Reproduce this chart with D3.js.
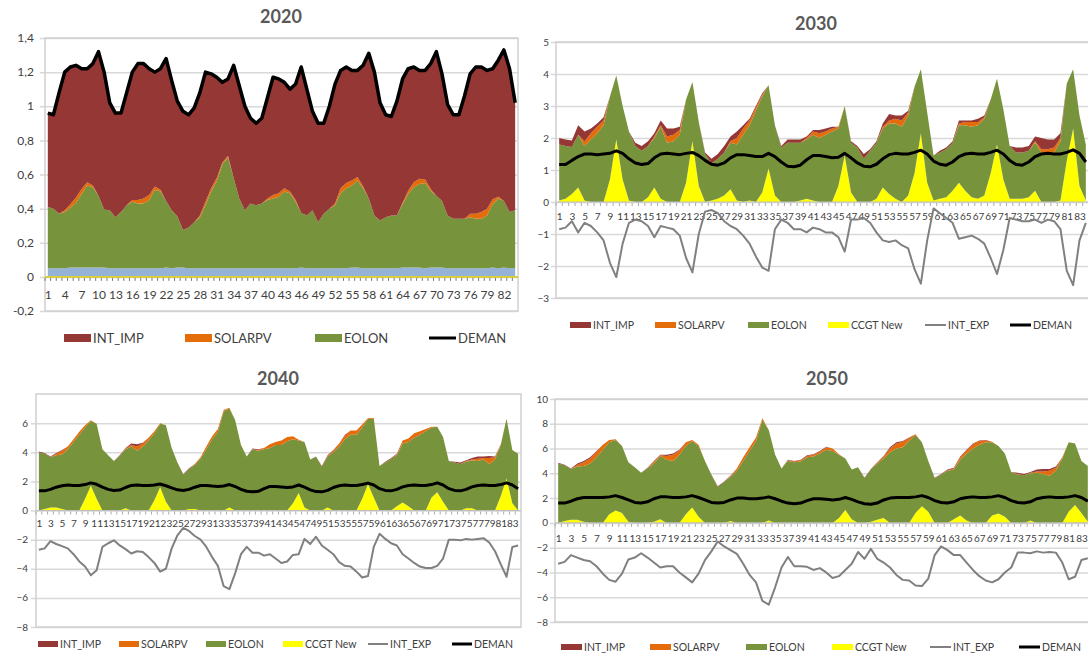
<!DOCTYPE html>
<html>
<head>
<meta charset="utf-8">
<script src="https://cdn.jsdelivr.net/npm/d3@7"></script>
<style>
  body { margin: 0; background: #fff; }
  svg { display: block; font-family: Lato, "Open Sans", sans-serif; }
</style>
</head>
<body>
<svg id="chart" width="1088" height="655"></svg>
<script>
// categories: 84 periods (7 days x 12)
var periods = d3.range(1, 85);

// ---- 2020 ----
var gas2020 = [
  0.005,0.005,0.005,0.005,0.005,0.005,0.005,0.005,0.005,0.005,0.005,0.005,
  0.005,0.005,0.005,0.005,0.005,0.005,0.005,0.005,0.005,0.005,0.005,0.005,
  0.005,0.005,0.005,0.005,0.005,0.005,0.005,0.005,0.005,0.005,0.005,0.005,
  0.005,0.005,0.005,0.005,0.005,0.005,0.005,0.005,0.005,0.005,0.005,0.005,
  0.005,0.005,0.005,0.005,0.005,0.005,0.005,0.005,0.005,0.005,0.005,0.005,
  0.005,0.005,0.005,0.005,0.005,0.005,0.005,0.005,0.005,0.005,0.005,0.005,
  0.005,0.005,0.005,0.005,0.005,0.005,0.005,0.005,0.005,0.005,0.005,0.005];
var hidro2020 = [
  0.045,0.045,0.045,0.045,0.05,0.05,0.05,0.05,0.05,0.05,0.05,0.045,
  0.045,0.045,0.045,0.045,0.045,0.045,0.045,0.045,0.045,0.05,0.045,0.05,
  0.05,0.045,0.045,0.045,0.045,0.045,0.045,0.045,0.045,0.045,0.045,0.045,
  0.045,0.045,0.045,0.045,0.045,0.045,0.045,0.045,0.045,0.05,0.045,0.045,
  0.045,0.045,0.045,0.045,0.045,0.045,0.05,0.05,0.045,0.045,0.045,0.045,
  0.045,0.045,0.045,0.05,0.05,0.05,0.05,0.045,0.05,0.05,0.05,0.045,
  0.045,0.045,0.045,0.045,0.045,0.045,0.045,0.05,0.045,0.05,0.045,0.045];
var eolon2020 = [
  0.36,0.35,0.32,0.33,0.35,0.38,0.43,0.48,0.47,0.42,0.34,0.34,
  0.30,0.33,0.37,0.39,0.38,0.38,0.40,0.46,0.45,0.39,0.34,0.30,
  0.22,0.24,0.27,0.30,0.37,0.45,0.51,0.61,0.65,0.53,0.41,0.34,
  0.38,0.37,0.38,0.40,0.41,0.42,0.45,0.44,0.39,0.32,0.31,0.34,
  0.27,0.32,0.35,0.37,0.44,0.47,0.48,0.51,0.47,0.41,0.31,0.28,
  0.30,0.31,0.31,0.37,0.43,0.47,0.49,0.50,0.45,0.42,0.39,0.31,
  0.29,0.29,0.29,0.30,0.29,0.29,0.31,0.37,0.41,0.39,0.33,0.34];
var solar2020 = [
  0,0,0,0.01,0.02,0.03,0.03,0.02,0.01,0,0,0,
  0,0,0,0.01,0.02,0.03,0.03,0.02,0.01,0,0,0,
  0,0,0,0.01,0.02,0.02,0.02,0.01,0.01,0,0,0,
  0,0,0,0.01,0.02,0.02,0.02,0.01,0.01,0,0,0,
  0,0,0,0.01,0.03,0.03,0.03,0.02,0.01,0,0,0,
  0,0,0,0.01,0.02,0.03,0.03,0.02,0.01,0,0,0,
  0,0,0,0.02,0.03,0.04,0.04,0.03,0.01,0,0,0];
var imp2020 = [
  0.55,0.55,0.71,0.81,0.81,0.78,0.71,0.67,0.72,0.85,0.81,0.63,
  0.61,0.58,0.66,0.75,0.80,0.79,0.74,0.67,0.71,0.84,0.76,0.68,
  0.70,0.66,0.67,0.72,0.76,0.67,0.59,0.47,0.45,0.66,0.66,0.61,
  0.50,0.48,0.50,0.59,0.69,0.67,0.62,0.60,0.68,0.86,0.74,0.58,
  0.58,0.53,0.60,0.70,0.69,0.68,0.65,0.63,0.71,0.85,0.84,0.69,
  0.60,0.58,0.67,0.73,0.72,0.68,0.64,0.64,0.74,0.85,0.75,0.65,
  0.61,0.61,0.72,0.82,0.86,0.85,0.81,0.77,0.80,0.89,0.84,0.63];
var deman2020 = [
  0.96,0.95,1.08,1.20,1.23,1.24,1.22,1.22,1.25,1.32,1.20,1.02,
  0.96,0.96,1.08,1.20,1.25,1.25,1.22,1.20,1.22,1.28,1.15,1.03,
  0.97,0.95,0.99,1.08,1.20,1.19,1.17,1.14,1.16,1.24,1.12,1.00,
  0.93,0.90,0.93,1.05,1.17,1.16,1.14,1.10,1.13,1.23,1.10,0.97,
  0.90,0.90,1.00,1.13,1.21,1.23,1.21,1.21,1.24,1.31,1.20,1.02,
  0.95,0.94,1.03,1.16,1.22,1.23,1.21,1.21,1.25,1.32,1.19,1.01,
  0.95,0.95,1.06,1.19,1.23,1.23,1.21,1.22,1.27,1.33,1.22,1.02];

// ---- 2030 ----
var ccgt2030 = [
  0.05,0.1,0.25,0.45,0.05,0,0,0,0.7,1.95,0.7,0.05,
  0,0,0.15,0.45,0.1,0,0,0,0.6,1.9,0.5,0,
  0.05,0.1,0.2,0.4,0.05,0,0.05,0,0.3,1.05,0.2,0,
  0,0,0.05,0.1,0.05,0,0,0,0.5,1.45,0.3,0,
  0,0,0.1,0.45,0.25,0.1,0,0.2,0.9,2.15,0.6,0.05,
  0.1,0.15,0.35,0.6,0.35,0.15,0.1,0.2,0.9,1.8,0.7,0.1,
  0.1,0.1,0.15,0.35,0,0,0,0.05,1.3,2.3,0.5,0.05];
var eolon2030 = [
  1.75,1.65,1.47,1.65,1.70,1.95,2.15,2.40,2.60,2.00,2.30,2.15,
  1.75,1.60,1.60,1.55,2.25,1.85,1.90,2.10,2.60,1.85,2.00,1.50,
  1.15,1.25,1.35,1.45,1.75,2.10,2.35,2.85,3.00,2.60,2.20,1.70,
  1.85,1.85,1.80,1.85,2.05,2.00,2.10,2.20,1.80,1.55,1.55,1.70,
  1.35,1.60,1.75,1.85,2.20,2.35,2.35,2.50,2.70,2.00,2.20,1.40,
  1.45,1.50,1.50,1.80,2.05,2.20,2.30,2.40,2.30,2.05,2.20,1.65,
  1.45,1.45,1.45,1.50,1.55,1.50,1.55,1.85,2.40,1.85,2.20,1.75];
var solar2030 = [
  0,0,0,0,0.15,0.2,0.2,0.15,0,0,0,0,
  0,0,0,0.05,0.05,0.2,0.2,0.15,0,0,0,0,
  0,0,0,0.05,0.2,0.2,0.15,0.1,0.05,0,0,0,
  0,0,0,0.05,0.1,0.15,0.1,0.1,0.05,0,0,0,
  0,0,0,0.05,0.1,0.15,0.2,0.1,0,0,0,0,
  0,0,0,0.05,0.1,0.15,0.1,0.05,0,0,0,0,
  0,0,0,0.05,0.1,0.15,0.15,0.1,0,0,0,0];
var imp2030 = [
  0.2,0.2,0.2,0.3,0.3,0.15,0.1,0.1,0,0,0,0,
  0.1,0.15,0.15,0.1,0.15,0.25,0.2,0.1,0,0,0,0.05,
  0.15,0.15,0.2,0.15,0.2,0.1,0.05,0.05,0.05,0,0,0.05,
  0.1,0.1,0.1,0.05,0.05,0.1,0.1,0.05,0,0,0.05,0.05,
  0.15,0.05,0.05,0.1,0.2,0.1,0.15,0.05,0,0,0,0,
  0.05,0.05,0.05,0.1,0.05,0.05,0.1,0.05,0,0,0,0,
  0.15,0.15,0.15,0.15,0.35,0.3,0.25,0.15,0,0,0,0];
var exp2030 = [
  -0.85,-0.8,-0.6,-0.95,-0.65,-0.75,-0.95,-1.2,-1.9,-2.35,-1.3,-0.65,
  -0.55,-0.6,-0.75,-1.1,-0.75,-0.8,-0.85,-1.05,-1.75,-2.2,-1.0,-0.3,
  -0.25,-0.35,-0.6,-0.75,-0.85,-1.05,-1.3,-1.7,-2.05,-2.15,-0.85,-0.55,
  -0.65,-0.85,-0.85,-0.95,-0.8,-0.85,-0.95,-0.95,-1.1,-1.55,-0.55,-0.55,
  -0.5,-0.65,-0.95,-1.2,-1.25,-1.2,-1.35,-1.45,-2.1,-2.55,-1.2,-0.2,
  -0.35,-0.5,-0.65,-1.15,-1.1,-1.05,-1.15,-1.3,-1.75,-2.25,-1.5,-0.5,
  -0.55,-0.6,-0.6,-0.55,-0.65,-0.55,-0.6,-0.85,-2.15,-2.6,-1.2,-0.65];
var deman2030 = [
  1.17,1.17,1.3,1.42,1.5,1.5,1.48,1.5,1.52,1.6,1.52,1.35,
  1.22,1.17,1.2,1.38,1.5,1.52,1.5,1.48,1.52,1.55,1.45,1.3,
  1.18,1.15,1.22,1.38,1.48,1.48,1.45,1.42,1.42,1.52,1.42,1.25,
  1.12,1.1,1.15,1.32,1.45,1.45,1.42,1.38,1.4,1.52,1.38,1.22,
  1.12,1.1,1.18,1.35,1.48,1.52,1.5,1.5,1.55,1.62,1.5,1.28,
  1.18,1.15,1.25,1.42,1.5,1.52,1.5,1.5,1.55,1.62,1.5,1.3,
  1.17,1.15,1.25,1.42,1.5,1.52,1.5,1.5,1.55,1.63,1.52,1.25];

// ---- 2040 ----
var ccgt2040 = [
  0,0.1,0.2,0.2,0.1,0,0,0,0.8,1.7,0.8,0,
  0,0,0,0.15,0,0,0,0,0.7,1.6,0.6,0,
  0,0,0.1,0.1,0,0,0,0,0,0.2,0,0,
  0,0,0,0,0,0,0,0,0.5,1.2,0.2,0,
  0,0,0.2,0,0,0,0,0,0.8,1.8,0.9,0,
  0,0,0.3,0.55,0.3,0,0,0,0.9,1.25,0.6,0,
  0,0,0.15,0.15,0,0,0,0,1.0,2.2,0.5,0];
var eolon2040 = [
  4.0,3.8,3.45,3.6,3.75,4.2,4.7,5.2,4.9,4.45,5.15,4.2,
  3.8,3.4,3.75,4.05,4.4,4.1,4.4,4.8,4.6,4.35,5.25,4.3,
  3.3,2.45,2.75,3.05,3.55,4.2,4.9,5.4,6.8,6.8,6.2,4.5,
  3.7,4.2,4.1,4.2,4.3,4.5,4.5,4.75,4.4,3.6,4.5,3.5,
  3.7,3.0,3.5,4.0,4.4,4.9,5.2,5.2,4.9,4.5,5.4,3.05,
  3.3,3.55,3.5,4.05,4.4,5.0,5.2,5.45,4.8,4.5,4.45,3.4,
  3.3,3.2,3.2,3.3,3.4,3.5,3.2,3.5,3.5,4.1,3.65,3.9];
var solar2040 = [
  0,0,0,0.1,0.25,0.2,0.2,0.2,0.15,0.05,0,0,
  0,0,0,0.05,0.1,0.3,0.2,0.2,0.15,0.05,0,0,
  0,0,0,0.05,0.1,0.2,0.2,0.2,0.1,0.05,0,0,
  0,0,0.05,0.1,0.25,0.2,0.3,0.3,0.2,0.05,0,0,
  0,0,0.05,0.1,0.2,0.25,0.3,0.3,0.2,0.05,0.05,0,
  0,0,0.05,0.2,0.25,0.3,0.25,0.15,0.05,0,0,0,
  0,0,0.05,0.05,0.15,0.1,0.4,0.15,0.05,0,0,0];
var imp2040 = [
  0.05,0.05,0.05,0.05,0.05,0,0,0,0,0,0,0,
  0,0,0.05,0.05,0.1,0.15,0.05,0,0,0,0,0,
  0,0.05,0.05,0,0,0,0,0,0,0,0,0,
  0,0.05,0.05,0,0,0,0,0,0,0,0,0,
  0,0.05,0.05,0.05,0,0.05,0,0,0,0,0,0,
  0.05,0.05,0.05,0,0,0,0,0,0,0,0,0,
  0.05,0.1,0.05,0.1,0.15,0.1,0.15,0.05,0,0,0,0];
var exp2040 = [
  -2.7,-2.6,-2.1,-2.3,-2.45,-2.6,-3.0,-3.5,-3.85,-4.45,-4.1,-2.5,
  -2.25,-2.05,-2.4,-2.65,-2.95,-2.8,-2.85,-3.2,-3.6,-4.2,-4.0,-2.6,
  -1.7,-1.2,-1.4,-1.75,-2.0,-2.5,-3.2,-3.8,-5.2,-5.4,-4.3,-3.0,
  -2.5,-2.9,-2.9,-3.1,-3.0,-3.3,-3.6,-3.5,-3.05,-3.0,-1.95,-2.3,
  -1.8,-2.4,-2.7,-3.0,-3.55,-3.8,-3.85,-4.2,-4.6,-4.5,-2.5,-1.6,
  -1.95,-2.25,-2.4,-3.0,-3.3,-3.6,-3.85,-3.95,-3.95,-3.8,-3.3,-2.0,
  -2.0,-2.05,-1.95,-2.0,-1.95,-1.9,-2.2,-2.8,-3.7,-4.55,-2.5,-2.4];
var deman2040 = [
  1.35,1.35,1.45,1.6,1.7,1.75,1.72,1.72,1.78,1.9,1.8,1.6,
  1.45,1.38,1.4,1.58,1.72,1.75,1.72,1.72,1.75,1.82,1.7,1.55,
  1.42,1.38,1.45,1.6,1.72,1.72,1.68,1.65,1.68,1.78,1.65,1.45,
  1.32,1.28,1.32,1.5,1.65,1.65,1.62,1.58,1.62,1.75,1.6,1.42,
  1.3,1.28,1.38,1.58,1.7,1.75,1.72,1.72,1.78,1.88,1.75,1.5,
  1.38,1.35,1.45,1.62,1.72,1.75,1.72,1.72,1.78,1.9,1.75,1.5,
  1.38,1.35,1.45,1.62,1.72,1.75,1.72,1.72,1.78,1.9,1.75,1.5];

// ---- 2050 ----
var ccgt2050 = [
  0,0.15,0.25,0.25,0.1,0,0,0,0.7,1.0,0.8,0.1,
  0,0,0,0.1,0.3,0,0,0,0.7,1.25,0.5,0,
  0,0,0,0.15,0,0,0,0,0,0.2,0,0,
  0,0,0,0,0,0,0,0,0.4,1.05,0.3,0,
  0,0.1,0.25,0.4,0,0,0,0,0.8,1.35,0.9,0,
  0,0,0.3,0.6,0.2,0,0,0,0.6,0.75,0.5,0,
  0,0,0.2,0,0,0,0,0,0.9,1.45,0.8,0.1];
var eolon2050 = [
  4.8,4.5,4.1,4.3,4.5,4.8,5.3,5.9,5.8,5.7,5.4,4.8,
  4.5,4.05,4.4,4.7,5.1,5.1,5.0,5.5,5.5,5.35,5.7,5.0,
  3.9,2.9,3.3,3.55,4.2,5.0,5.8,6.6,8.3,7.3,5.5,4.4,
  5.0,4.9,4.95,5.3,5.35,5.6,5.9,5.8,5.1,4.15,4.0,4.5,
  3.6,4.2,4.55,4.8,5.7,6.0,6.1,6.6,6.3,5.15,4.1,3.6,
  3.9,4.2,4.0,4.5,5.4,6.0,6.3,6.5,5.9,5.45,5.1,4.1,
  3.9,3.85,3.8,4.05,3.95,3.8,4.2,5.2,5.6,4.95,4.2,4.5];
var solar2050 = [
  0,0,0,0.15,0.3,0.4,0.45,0.4,0.2,0.05,0,0,
  0,0,0,0.15,0.05,0.3,0.5,0.35,0.3,0.1,0.1,0,
  0,0,0,0.05,0.2,0.3,0.3,0.3,0.15,0,0,0,
  0.05,0.05,0.1,0.1,0.15,0.15,0.2,0.2,0.05,0,0,0,
  0,0,0.05,0.15,0.3,0.4,0.45,0.25,0.05,0,0,0,
  0,0.05,0.1,0.2,0.25,0.35,0.3,0.15,0.05,0,0,0,
  0.05,0,0.05,0.1,0.2,0.4,0.25,0.1,0,0,0,0];
var imp2050 = [
  0.05,0.05,0.05,0.1,0.1,0.1,0.05,0,0,0,0,0,
  0,0,0.05,0.05,0.05,0.1,0.1,0.05,0,0,0,0,
  0,0.05,0.05,0.05,0,0,0,0,0,0,0,0,
  0.05,0.05,0.05,0.05,0.05,0.05,0.05,0,0,0,0,0,
  0.05,0.05,0.05,0.05,0.1,0.1,0.05,0.05,0,0,0,0.05,
  0.05,0.05,0.05,0.05,0.05,0.05,0.05,0.05,0,0,0,0,
  0.1,0.1,0.05,0.15,0.2,0.15,0.1,0,0,0,0,0];
var exp2050 = [
  -3.3,-3.15,-2.6,-2.8,-3.0,-3.1,-3.5,-4.1,-4.6,-4.75,-4.1,-2.95,
  -2.8,-2.45,-2.8,-3.2,-3.6,-3.5,-3.5,-4.0,-4.4,-4.8,-4.1,-3.0,
  -2.3,-1.5,-1.9,-2.2,-2.5,-3.3,-4.2,-4.8,-6.3,-6.6,-5.2,-3.6,
  -2.75,-3.5,-3.5,-3.55,-3.8,-3.65,-4.0,-4.45,-4.3,-3.8,-3.3,-2.35,
  -2.9,-2.1,-2.9,-3.2,-3.6,-4.2,-4.6,-4.65,-5.05,-5.1,-4.5,-2.6,
  -1.9,-2.2,-2.6,-2.6,-3.2,-3.8,-4.3,-4.65,-4.8,-4.55,-4.0,-3.6,
  -2.4,-2.4,-2.45,-2.3,-2.4,-2.35,-2.4,-3.2,-4.55,-4.35,-3.0,-2.85];
var deman2050 = [
  1.6,1.6,1.75,1.95,2.05,2.05,2.05,2.05,2.1,2.2,2.05,1.85,
  1.65,1.6,1.7,1.95,2.1,2.1,2.05,2.05,2.1,2.2,2.05,1.85,
  1.65,1.6,1.65,1.85,2.0,2.0,1.95,1.95,2.0,2.1,1.95,1.75,
  1.6,1.55,1.6,1.8,1.95,1.95,1.9,1.85,1.9,2.05,1.9,1.7,
  1.55,1.5,1.6,1.85,2.0,2.05,2.05,2.05,2.1,2.2,2.05,1.8,
  1.65,1.6,1.7,1.95,2.05,2.1,2.05,2.05,2.1,2.2,2.05,1.8,
  1.65,1.6,1.7,1.95,2.05,2.1,2.05,2.05,2.1,2.2,2.05,1.75];

var ticks2020 = [-0.2, 0, 0.2, 0.4, 0.6, 0.8, 1, 1.2, 1.4];
var ticks2030 = [-3, -2, -1, 0, 1, 2, 3, 4, 5];
var ticks2040 = [-8, -6, -4, -2, 0, 2, 4, 6];
var ticks2050 = [-8, -6, -4, -2, 0, 2, 4, 6, 8, 10];

var colors = {
    INT_IMP: "#953735", SOLARPV: "#E46C0A", EOLON: "#77933C",
    CCGT: "#FFFF00", HIDRO: "#95B3D7", GAS: "#D8CF3A",
    INT_EXP: "#808080", DEMAN: "#000000"
};

var svg = d3.select("#chart");

var panels = [
    {
        title: "2020", titleX: 281, titleY: 23, x0: 45, x1: 518, y0: 38, y1: 311,
        domain: [-0.2, 1.4], ticks: ticks2020, comma: true, every: 3,
        tickFont: 12, labelGap: 11, labelDy: 19, demanWidth: 3.5,
        layers: [
            { key: "GAS", values: gas2020 },
            { key: "HIDRO", values: hidro2020 },
            { key: "EOLON", values: eolon2020 },
            { key: "SOLARPV", values: solar2020 },
            { key: "INT_IMP", values: imp2020 }
        ],
        lines: [{ key: "DEMAN", values: deman2020 }],
        legend: { y: 338, font: 13, sw: 27, sh: 8, items: ["INT_IMP", "SOLARPV", "EOLON", "DEMAN"], xs: [64, 185, 315, 429] }
    },
    {
        title: "2030", titleX: 816, titleY: 30, x0: 556, x1: 1089, y0: 42, y1: 298,
        domain: [-3, 5], ticks: ticks2030, every: 2,
        tickFont: 10, labelGap: 7, labelDy: 16, demanWidth: 3,
        layers: [
            { key: "CCGT", values: ccgt2030 },
            { key: "EOLON", values: eolon2030 },
            { key: "SOLARPV", values: solar2030 },
            { key: "INT_IMP", values: imp2030 }
        ],
        lines: [{ key: "INT_EXP", values: exp2030 }, { key: "DEMAN", values: deman2030 }],
        legend: { y: 325, font: 10.5, sw: 21, sh: 6, items: ["INT_IMP", "SOLARPV", "EOLON", "CCGT", "INT_EXP", "DEMAN"], xs: [570, 655, 748, 828, 925, 1010] }
    },
    {
        title: "2040", titleX: 278, titleY: 385, x0: 36, x1: 521, y0: 394, y1: 627,
        domain: [-8, 8], ticks: ticks2040, every: 2,
        tickFont: 10, labelGap: 8, labelDy: 14, demanWidth: 3,
        layers: [
            { key: "CCGT", values: ccgt2040 },
            { key: "EOLON", values: eolon2040 },
            { key: "SOLARPV", values: solar2040 },
            { key: "INT_IMP", values: imp2040 }
        ],
        lines: [{ key: "INT_EXP", values: exp2040 }, { key: "DEMAN", values: deman2040 }],
        legend: { y: 644, font: 10.5, sw: 20, sh: 6, items: ["INT_IMP", "SOLARPV", "EOLON", "CCGT", "INT_EXP", "DEMAN"], xs: [38, 119, 206, 283, 368, 452] }
    },
    {
        title: "2050", titleX: 827, titleY: 385, x0: 555, x1: 1091, y0: 399, y1: 622,
        domain: [-8, 10], ticks: ticks2050, every: 2,
        tickFont: 10, labelGap: 7, labelDy: 17, demanWidth: 3,
        layers: [
            { key: "CCGT", values: ccgt2050 },
            { key: "EOLON", values: eolon2050 },
            { key: "SOLARPV", values: solar2050 },
            { key: "INT_IMP", values: imp2050 }
        ],
        lines: [{ key: "INT_EXP", values: exp2050 }, { key: "DEMAN", values: deman2050 }],
        legend: { y: 647, font: 10.5, sw: 21, sh: 6, items: ["INT_IMP", "SOLARPV", "EOLON", "CCGT", "INT_EXP", "DEMAN"], xs: [561, 650, 746, 832, 930, 1019] }
    }
];

var legendNames = { CCGT: "CCGT New" };

panels.forEach(drawPanel);

function drawPanel(p) {
    var g = svg.append("g");

    var x = d3.scalePoint().domain(periods).range([p.x0, p.x1]).padding(0.5);
    var band = d3.scaleBand().domain(periods).range([p.x0, p.x1]);
    var y = d3.scaleLinear().domain(p.domain).range([p.y1, p.y0]);
    var fmt = p.comma ? function (d) { return String(+d.toFixed(1)).replace(".", ","); } : d3.format("d");

    // gridlines (plus the small outside ticks on the left)
    g.append("g")
        .attr("transform", "translate(" + (p.x0 - 5) + ",0)")
        .call(d3.axisLeft(y).tickValues(p.ticks).tickSize(-(p.x1 - p.x0 + 5)).tickFormat(""))
        .call(function (s) {
            s.select(".domain").remove();
            s.selectAll("line").attr("stroke", "#d9d9d9").attr("stroke-width", 1.5);
        });

    // plot frame
    g.append("rect")
        .attr("x", p.x0).attr("y", p.y0)
        .attr("width", p.x1 - p.x0).attr("height", p.y1 - p.y0)
        .attr("fill", "none").attr("stroke", "#d0d0d0").attr("stroke-width", 1.5);

    // stacked areas
    var table = periods.map(function (d, i) {
        var row = { period: d };
        p.layers.forEach(function (l) { row[l.key] = l.values[i]; });
        return row;
    });
    var series = d3.stack().keys(p.layers.map(function (l) { return l.key; }))(table);

    var area = d3.area()
        .x(function (d) { return x(d.data.period); })
        .y0(function (d) { return y(d[0]); })
        .y1(function (d) { return y(d[1]); });

    g.append("g").selectAll("path")
        .data(series)
        .enter().append("path")
        .attr("d", area)
        .attr("fill", function (d) { return colors[d.key]; });

    // category axis at zero
    var zero = y(0);
    g.append("line")
        .attr("x1", p.x0).attr("x2", p.x1)
        .attr("y1", zero).attr("y2", zero)
        .attr("stroke", p.comma ? "#D8CF3A" : "#bfbfbf").attr("stroke-width", p.comma ? 2 : 1.2);

    g.append("g").selectAll("line")
        .data(periods)
        .enter().append("line")
        .attr("x1", function (d) { return band(d); })
        .attr("x2", function (d) { return band(d); })
        .attr("y1", zero + 1).attr("y2", zero + 4)
        .attr("stroke", p.comma ? "#777" : "#aaa").attr("stroke-width", 1);

    g.append("g")
        .attr("transform", "translate(0," + zero + ")")
        .call(d3.axisBottom(x)
            .tickValues(periods.filter(function (d, i) { return i % p.every === 0; }))
            .tickSize(0).tickPadding(p.labelDy - 5))
        .call(function (s) {
            s.select(".domain").remove();
            s.selectAll("text")
                .attr("font-family", "Lato, 'Open Sans', sans-serif")
                .attr("font-size", p.tickFont)
                .attr("fill", "#404040");
        });

    // value axis labels
    g.append("g").selectAll("text")
        .data(p.ticks)
        .enter().append("text")
        .attr("x", p.x0 - p.labelGap)
        .attr("y", function (d) { return y(d); })
        .attr("dy", "0.35em")
        .attr("text-anchor", "end")
        .attr("font-size", p.tickFont)
        .attr("fill", "#404040")
        .text(fmt);

    // lines
    var line = d3.line()
        .x(function (d, i) { return x(periods[i]); })
        .y(function (d) { return y(d); });

    p.lines.forEach(function (l) {
        g.append("path")
            .datum(l.values)
            .attr("d", line)
            .attr("fill", "none")
            .attr("stroke", colors[l.key])
            .attr("stroke-width", l.key === "DEMAN" ? p.demanWidth : 2)
            .attr("stroke-linejoin", "round");
    });

    // title
    g.append("text")
        .attr("x", p.titleX).attr("y", p.titleY)
        .attr("text-anchor", "middle")
        .attr("font-size", 18).attr("font-weight", "bold")
        .attr("fill", "#595959")
        .text(p.title);

    // legend
    var lg = p.legend;
    lg.items.forEach(function (key, i) {
        var lx = lg.xs[i];
        if (key === "DEMAN" || key === "INT_EXP") {
            g.append("line")
                .attr("x1", lx).attr("x2", lx + lg.sw)
                .attr("y1", lg.y).attr("y2", lg.y)
                .attr("stroke", colors[key])
                .attr("stroke-width", key === "DEMAN" ? 3 : 2);
        } else {
            g.append("rect")
                .attr("x", lx).attr("y", lg.y - lg.sh / 2)
                .attr("width", lg.sw).attr("height", lg.sh)
                .attr("fill", colors[key]);
        }
        g.append("text")
            .attr("x", lx + lg.sw + 2)
            .attr("y", lg.y)
            .attr("dy", "0.35em")
            .attr("font-size", lg.font)
            .attr("fill", "#404040")
            .text(legendNames[key] || key);
    });
}
</script>
</body>
</html>
